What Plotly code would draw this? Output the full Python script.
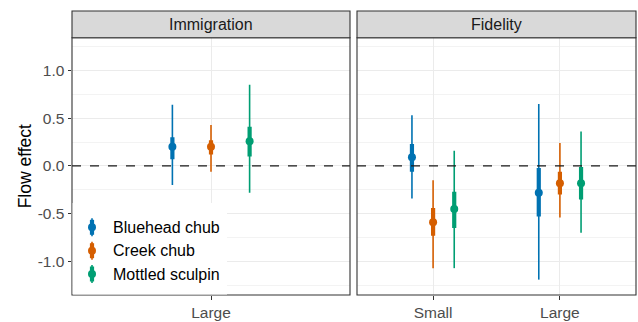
import plotly.graph_objects as go

# ---------------- data ----------------
species = ["Bluehead chub", "Creek chub", "Mottled sculpin"]
colors = ["#0072B2", "#D55E00", "#009E73"]

panels = ["Immigration", "Fidelity"]
imm_categories = ["Large"]
fid_categories = ["Small", "Large"]

# Immigration panel (Large) per species
imm_median = [0.20, 0.20, 0.26]
imm_lo95 = [-0.20, -0.06, -0.28]
imm_hi95 = [0.64, 0.43, 0.85]
imm_lo50 = [0.07, 0.12, 0.10]
imm_hi50 = [0.30, 0.27, 0.41]

# Fidelity panel: each list is [Small, Large] for one species
fid_median = [[0.09, -0.28], [-0.59, -0.18], [-0.45, -0.18]]
fid_lo95 = [[-0.34, -1.19], [-1.07, -0.54], [-1.07, -0.70]]
fid_hi95 = [[0.53, 0.65], [-0.15, 0.24], [0.16, 0.36]]
fid_lo50 = [[-0.06, -0.53], [-0.73, -0.30], [-0.65, -0.35]]
fid_hi50 = [[0.23, -0.02], [-0.44, -0.06], [-0.27, -0.01]]

y_ticks = [-1.0, -0.5, 0.0, 0.5, 1.0]
y_ticktext = ["-1.0", "-0.5", "0.0", "0.5", "1.0"]
y_minor = [-1.25, -0.75, -0.25, 0.25, 0.75, 1.25]

# ---------------- figure ----------------
W, H = 638, 322
dodge = [-1/6, 0, 1/6]
FONT = "Liberation Sans, Arial, sans-serif"

fig = go.Figure()


def add_ranges(xaxis, yaxis, cats, med, lo95, hi95, lo50, hi50):
    for i, sp in enumerate(species):
        xs = [c + 1 + dodge[i] for c in range(len(cats))]
        # thin (outer) interval
        tx, ty = [], []
        for k, x in enumerate(xs):
            tx += [x, x, None]
            ty += [lo95[i][k], hi95[i][k], None]
        fig.add_trace(go.Scatter(x=tx, y=ty, mode="lines", xaxis=xaxis, yaxis=yaxis,
                                 line=dict(color=colors[i], width=1.6), showlegend=False,
                                 hoverinfo="skip"))
        # thick (inner) interval
        kx, ky = [], []
        for k, x in enumerate(xs):
            kx += [x, x, None]
            ky += [lo50[i][k], hi50[i][k], None]
        fig.add_trace(go.Scatter(x=kx, y=ky, mode="lines", xaxis=xaxis, yaxis=yaxis,
                                 line=dict(color=colors[i], width=4.2), showlegend=False,
                                 hoverinfo="skip"))
        fig.add_trace(go.Scatter(x=xs, y=med[i], mode="markers", xaxis=xaxis, yaxis=yaxis,
                                 marker=dict(color=colors[i], size=8), name=sp,
                                 showlegend=False))


add_ranges("x", "y", imm_categories, [[v] for v in imm_median], [[v] for v in imm_lo95],
           [[v] for v in imm_hi95], [[v] for v in imm_lo50], [[v] for v in imm_hi50])
add_ranges("x2", "y2", fid_categories, fid_median, fid_lo95, fid_hi95, fid_lo50, fid_hi50)

px = lambda x: x / W
py = lambda y: 1 - y / H

x1dom = [px(72), px(350)]
x2dom = [px(357), px(636)]
ydom = [py(295), py(37.7)]
yrange = [-1.351, 1.343]

grid = "#EBEBEB"
axis_common = dict(showgrid=True, gridcolor=grid, gridwidth=1.1, zeroline=False,
                   ticks="outside", ticklen=3.5, tickcolor="#333333", tickwidth=1,
                   tickfont=dict(family=FONT, size=15.5, color="#4D4D4D"),
                   showline=False, automargin=False)
minor = dict(tickvals=y_minor, showgrid=True, gridcolor="#F3F3F3", gridwidth=0.7, ticks="")

fig.update_layout(
    width=W, height=H, margin=dict(l=0, r=0, t=0, b=0),
    plot_bgcolor="white", paper_bgcolor="white", showlegend=False,
    xaxis=dict(domain=x1dom, range=[0.4, 1.6], tickvals=[1], ticktext=imm_categories,
               anchor="y", **axis_common),
    xaxis2=dict(domain=x2dom, range=[0.4, 2.6], tickvals=[1, 2], ticktext=fid_categories,
                anchor="y2", **axis_common),
    yaxis=dict(domain=ydom, range=yrange, tickvals=y_ticks, ticktext=y_ticktext, anchor="x",
               minor=minor, **axis_common),
    yaxis2=dict(domain=ydom, range=yrange, tickvals=y_ticks, showticklabels=False, ticks="",
                anchor="x2", minor=minor,
                **{k: v for k, v in axis_common.items() if k != "ticks"}),
)

shapes = []
annotations = []
for xr, yr, dom, title in [("x", "y", x1dom, panels[0]), ("x2", "y2", x2dom, panels[1])]:
    # zero dashed line
    shapes.append(dict(type="line", xref=f"{xr} domain", yref=yr, x0=0, x1=1, y0=0, y1=0,
                       line=dict(color="#1A1A1A", width=1.3, dash="dash"), layer="above"))
    # panel border
    shapes.append(dict(type="rect", xref=f"{xr} domain", yref=f"{yr} domain", x0=0, x1=1,
                       y0=0, y1=1, line=dict(color="#333333", width=1.1), layer="above"))
    # strip
    shapes.append(dict(type="rect", xref="paper", yref="paper", x0=dom[0], x1=dom[1],
                       y0=py(37.7), y1=py(11), fillcolor="#D9D9D9",
                       line=dict(color="#333333", width=1.1), layer="above"))
    annotations.append(dict(text=title, xref="paper", yref="paper", x=(dom[0] + dom[1]) / 2,
                            y=(py(37.7) + py(11)) / 2, showarrow=False,
                            font=dict(family=FONT, size=16, color="#1A1A1A"),
                            xanchor="center", yanchor="middle"))

# y axis title
annotations.append(dict(text="Flow effect", xref="paper", yref="paper", x=px(25),
                        y=(ydom[0] + ydom[1]) / 2, textangle=-90, showarrow=False,
                        font=dict(family=FONT, size=17.5, color="black"),
                        xanchor="center", yanchor="middle"))

# legend (inside Immigration panel)
shapes.append(dict(type="rect", xref="paper", yref="paper", x0=px(72.6), x1=px(227),
                   y0=py(294.4), y1=py(203), fillcolor="white", line=dict(width=0),
                   layer="above"))
leg_y = [227.3, 250.7, 274]
for i, sp in enumerate(species):
    cx, cy = 92, leg_y[i]
    shapes.append(dict(type="line", xref="paper", yref="paper", x0=px(cx), x1=px(cx),
                       y0=py(cy - 9), y1=py(cy + 9), line=dict(color=colors[i], width=1.6),
                       layer="above"))
    shapes.append(dict(type="line", xref="paper", yref="paper", x0=px(cx), x1=px(cx),
                       y0=py(cy - 7.5), y1=py(cy + 7.5), line=dict(color=colors[i], width=4.2),
                       layer="above"))
    shapes.append(dict(type="circle", xref="paper", yref="paper", x0=px(cx - 4), x1=px(cx + 4),
                       y0=py(cy + 4), y1=py(cy - 4), fillcolor=colors[i],
                       line=dict(width=0), layer="above"))
    annotations.append(dict(text=sp, xref="paper", yref="paper", x=px(111), y=py(cy),
                            showarrow=False, xanchor="left", yanchor="middle",
                            font=dict(family=FONT, size=16, color="black")))

fig.update_layout(shapes=shapes, annotations=annotations)
fig.write_html("out.html", config={"displayModeBar": False},
               post_script="document.body.style.margin='0';document.body.style.overflow='hidden';")
